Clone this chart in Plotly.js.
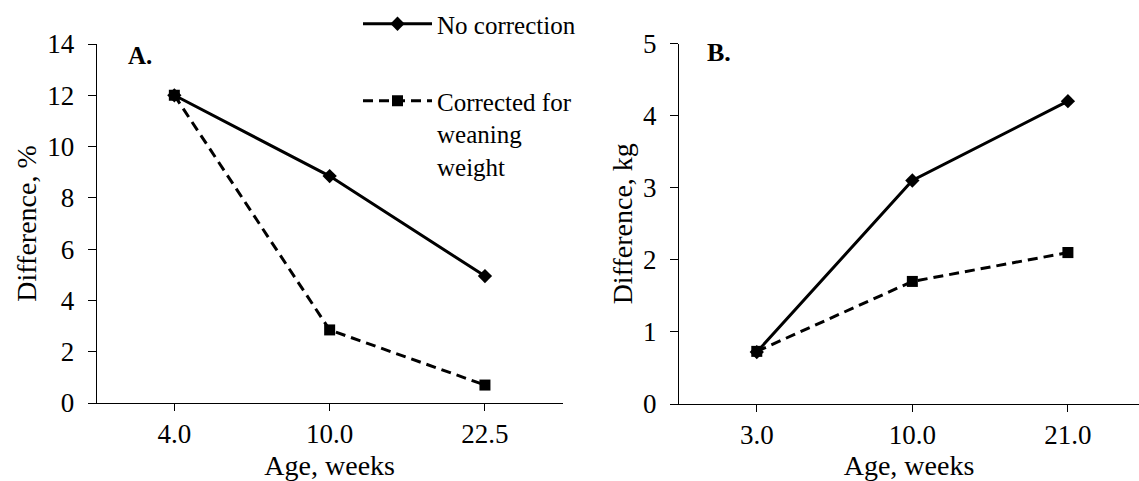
<!DOCTYPE html>
<html><head><meta charset="utf-8">
<script src="https://cdn.plot.ly/plotly-3.0.1.min.js"></script>
<style>html,body{margin:0;padding:0;background:#fff}#chart{width:1139px;height:481px}</style>
</head><body><div id="chart"></div>
<script>
// ---- data ----
const ageA = ['4.0', '10.0', '22.5'];          // panel A categories (weeks)
const ageB = ['3.0', '10.0', '21.0'];          // panel B categories (weeks)
const noCorrPct = [12.0, 8.85, 4.95];          // A: No correction, %
const corrPct   = [12.0, 2.85, 0.70];          // A: Corrected for weaning weight, %
const noCorrKg  = [0.72, 3.10, 4.20];          // B: No correction, kg
const corrKg    = [0.73, 1.70, 2.10];          // B: Corrected for weaning weight, kg
const seriesNames = ['No correction', 'Corrected for<br>weaning<br>weight'];
const panelLabels = ['A.', 'B.'];
const yTitles = ['Difference, %', 'Difference, kg'];
const xTitle = 'Age, weeks';

// ---- styling ----
const FONT = 'Liberation Serif';
const serifSpan = t => '<span style="font-family:Liberation Serif">' + t + '</span>';
const solidLine = {color: '#000', width: 3};
const dashLine = {color: '#000', width: 3, dash: '10px,6px'};
const diamond = {symbol: 'diamond', size: 11, color: '#000'};
const square = {symbol: 'square', size: 11, color: '#000'};

const traces = [
  {x: ageA, y: noCorrPct, name: serifSpan(seriesNames[0]), mode: 'lines+markers', line: solidLine, marker: diamond, xaxis: 'x', yaxis: 'y', legend: 'legend'},
  {x: ageA, y: corrPct, name: serifSpan(seriesNames[1]), mode: 'lines+markers', line: dashLine, marker: square, xaxis: 'x', yaxis: 'y', legend: 'legend2'},
  {x: ageB, y: noCorrKg, name: seriesNames[0], mode: 'lines+markers', line: solidLine, marker: diamond, xaxis: 'x2', yaxis: 'y2', showlegend: false},
  {x: ageB, y: corrKg, name: seriesNames[1], mode: 'lines+markers', line: dashLine, marker: square, xaxis: 'x2', yaxis: 'y2', showlegend: false}
];

const W = 1139, H = 481;
const px = v => v / W, py = v => 1 - v / H;

const xCommon = {
  type: 'category', showgrid: false, zeroline: false, showline: true, linecolor: '#000', linewidth: 1,
  ticks: 'outside', ticklen: 7, tickcolor: '#000', tickwidth: 1,
  tickfont: {family: FONT, size: 27, color: '#000'},
  title: {text: xTitle, font: {family: FONT, size: 28, color: '#000'}, standoff: 13}
};
const yCommon = {
  showgrid: false, zeroline: false, showline: true, linecolor: '#000', linewidth: 1,
  ticks: 'outside', ticklen: 8, tickcolor: '#000', tickwidth: 1, ticklabelstandoff: 8,
  tickfont: {family: FONT, size: 27, color: '#000'}
};

const layout = {
  width: W, height: H,
  margin: {l: 0, r: 0, t: 0, b: 0},
  paper_bgcolor: '#fff', plot_bgcolor: 'rgba(0,0,0,0)',
  font: {family: FONT, color: '#000'},
  xaxis: Object.assign({}, xCommon, {domain: [px(96.7), px(562.6)], range: [-0.5, 2.5], anchor: 'y'}),
  yaxis: Object.assign({}, yCommon, {domain: [py(403), py(44)], range: [0, 14], dtick: 2, anchor: 'x',
    title: {text: yTitles[0], font: {family: FONT, size: 28, color: '#000'}, standoff: 2}}),
  xaxis2: Object.assign({}, xCommon, {domain: [px(679), 1], range: [-0.5, 2.457], anchor: 'y2'}),
  yaxis2: Object.assign({}, yCommon, {domain: [py(404), py(43.5)], range: [0, 5], dtick: 1, anchor: 'x2',
    title: {text: yTitles[1], font: {family: FONT, size: 28, color: '#000'}, standoff: 2}}),
  legend: {x: px(358), y: py(1), xanchor: 'left', yanchor: 'top', bgcolor: 'rgba(0,0,0,0)',
    font: {family: FONT, size: 25, color: '#000'}, itemwidth: 69, valign: 'top'},
  legend2: {x: px(358), y: py(78), xanchor: 'left', yanchor: 'top', bgcolor: 'rgba(0,0,0,0)',
    font: {family: FONT, size: 25, color: '#000'}, itemwidth: 69, valign: 'top'},
  annotations: [
    {text: '<b>' + panelLabels[0] + '</b>', xref: 'paper', yref: 'paper', x: px(140), y: py(55),
      xanchor: 'center', yanchor: 'middle', showarrow: false, font: {family: FONT, size: 25, color: '#000'}},
    {text: '<b>' + panelLabels[1] + '</b>', xref: 'paper', yref: 'paper', x: px(719), y: py(52),
      xanchor: 'center', yanchor: 'middle', showarrow: false, font: {family: FONT, size: 26, color: '#000'}}
  ],
  showlegend: true
};

Plotly.newPlot('chart', traces, layout, {staticPlot: true, displayModeBar: false});
</script>
</body></html>
